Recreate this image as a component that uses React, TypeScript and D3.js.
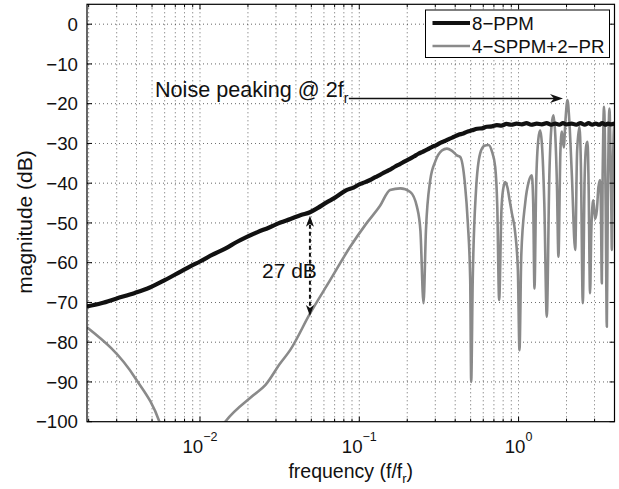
import React from 'react';
import * as d3 from 'd3';

const W = 619;
const H = 489;
const PL = 87;
const PR = 614.5;
const PT = 4.3;
const PB = 421.7;

const xDomain = [1 / 512, 4];
const yDomain = [-100, 5];
const yTicks = [0, -10, -20, -30, -40, -50, -60, -70, -80, -90, -100];
const xMajorTicks = [0.01, 0.1, 1];
const xTickExp = ['\u22122', '\u22121', '0'];
const seriesNames = ['8\u2212PPM', '4\u2212SPPM+2\u2212PR'];

const ppmFreq = [0.00195, 0.0024, 0.003, 0.0039, 0.0048, 0.006, 0.0075, 0.0088, 0.01, 0.012, 0.0145, 0.017, 0.0197, 0.023, 0.027, 0.032, 0.037, 0.043, 0.049, 0.055, 0.062, 0.07, 0.0836, 0.092, 0.1, 0.108, 0.117, 0.126, 0.135, 0.145, 0.156, 0.168, 0.18, 0.193, 0.207, 0.22, 0.235, 0.25, 0.268, 0.285, 0.305, 0.325, 0.345, 0.37, 0.395, 0.42, 0.45, 0.48, 0.51, 0.55, 0.59, 0.63, 0.68, 0.73, 0.78, 0.84, 0.9, 0.97, 1.05, 1.12, 1.2, 1.3, 1.4, 1.5, 1.6, 1.7, 1.8, 1.9, 2.0, 2.15, 2.3, 2.45, 2.6, 2.75, 2.9, 3.05, 3.2, 3.35, 3.5, 3.65, 3.8, 4.0];
const ppmMag = [-71.0, -70.2, -69.0, -67.6, -66.3, -64.4, -62.3, -60.8, -59.7, -58.0, -56.4, -54.8, -53.5, -52.3, -51.2, -49.9, -49.0, -48.0, -47.3, -46.2, -44.9, -43.7, -41.7, -41.1, -40.3, -39.8, -39.2, -38.5, -37.9, -37.2, -36.6, -35.8, -35.2, -34.5, -33.9, -33.3, -32.6, -32.1, -31.5, -30.9, -30.4, -29.8, -29.4, -28.8, -28.3, -27.8, -27.5, -27.0, -26.7, -26.3, -26.2, -25.8, -25.7, -25.4, -25.5, -25.1, -25.3, -25.0, -25.2, -24.9, -25.3, -25.0, -25.2, -24.9, -25.3, -25.0, -25.3, -24.9, -25.2, -25.0, -25.3, -24.9, -25.3, -24.9, -25.3, -25.0, -25.3, -24.9, -25.3, -25.0, -25.2, -25.0];

const sppmFreq = [0.00196, 0.00392, 0.00562, 0.0068, 0.0095, 0.0144, 0.0217, 0.0257, 0.0319, 0.0368, 0.0492, 0.0656, 0.0877, 0.11, 0.135, 0.156, 0.181, 0.209, 0.23, 0.242, 0.253, 0.262, 0.279, 0.30, 0.33, 0.355, 0.38, 0.41, 0.43, 0.46, 0.48, 0.497, 0.504, 0.515, 0.54, 0.574, 0.61, 0.647, 0.68, 0.713, 0.735, 0.755, 0.78, 0.80, 0.824, 0.85, 0.88, 0.908, 0.953, 0.99, 1.013, 1.04, 1.1, 1.16, 1.21, 1.235, 1.258, 1.29, 1.33, 1.366, 1.40, 1.45, 1.503, 1.56, 1.61, 1.655, 1.70, 1.74, 1.779, 1.83, 1.87, 1.92, 1.97, 2.027, 2.08, 2.16, 2.266, 2.33, 2.41, 2.46, 2.53, 2.6, 2.66, 2.71, 2.75, 2.81, 2.86, 2.92, 2.95, 3.02, 3.10, 3.17, 3.25, 3.29, 3.33, 3.37, 3.41, 3.44, 3.48, 3.53, 3.58, 3.63, 3.68, 3.72, 3.76, 3.81, 3.85, 3.9, 3.95, 4.0];
const sppmMag = [-76.3, -89.0, -100.5, -112, -112, -100.0, -93.3, -90.8, -85.3, -82.0, -72.7, -64.4, -56.0, -50.3, -45.7, -41.7, -41.3, -42.2, -45.9, -52.0, -70.2, -52.0, -39.2, -34.5, -31.8, -31.3, -31.8, -33.0, -33.4, -40.0, -50.0, -64.4, -90.0, -65.0, -42.0, -32.5, -30.6, -30.4, -32.0, -35.9, -46.0, -69.4, -47.0, -41.5, -39.7, -41.0, -44.5, -47.6, -52.6, -62.0, -82.0, -58.0, -45.0, -39.5, -38.0, -45.0, -66.5, -40.0, -29.0, -26.7, -30.0, -45.0, -73.6, -38.0, -25.5, -22.9, -28.0, -40.0, -58.5, -32.0, -27.0, -31.0, -24.0, -19.1, -24.0, -38.0, -56.8, -32.0, -25.8, -35.0, -70.2, -38.0, -30.5, -29.6, -40.0, -67.7, -52.0, -45.0, -44.3, -49.0, -46.8, -41.0, -39.2, -47.0, -65.2, -38.0, -24.0, -20.8, -28.0, -50.0, -76.1, -45.0, -26.0, -21.2, -28.0, -42.0, -56.8, -38.0, -28.0, -25.0];

const FONT = 'Liberation Sans, Arial, Helvetica, sans-serif';

export default function App() {
  const x = d3.scaleLog().domain(xDomain).range([PL, PR]);
  const y = d3.scaleLinear().domain(yDomain).range([PB, PT]);

  const line = d3
    .line<[number, number]>()
    .x((d) => x(d[0]))
    .y((d) => y(d[1]))
    .curve(d3.curveMonotoneX);

  const ppm: [number, number][] = ppmFreq.map((f, i) => [f, ppmMag[i]]);
  const sppm: [number, number][] = sppmFreq.map((f, i) => [f, sppmMag[i]]);

  const minor: number[] = [];
  for (let e = -3; e <= 0; e++) {
    for (let m = 2; m <= 9; m++) {
      const v = m * Math.pow(10, e);
      if (v > xDomain[0] && v < xDomain[1]) minor.push(v);
    }
  }

  const dotted = { stroke: '#000', strokeWidth: 0.8, strokeDasharray: '1,3', opacity: 0.75 };

  const npY = -18.7;
  const npX0 = 0.086;
  const npX1 = 1.9;
  const dbX = 0.049;
  const dbTop = -48.2;
  const dbBot = -73.4;

  const ax1 = x(npX1);
  const ay = y(npY);
  const dx = x(dbX);
  const dyTop = y(dbTop);
  const dyBot = y(dbBot);

  const TF = 18.7;

  return (
    <svg width={W} height={H} style={{ position: 'absolute', left: 0, top: 0, background: '#fff' }} fontFamily={FONT}>
      <defs>
        <clipPath id="plotclip">
          <rect x={PL} y={PT} width={PR - PL} height={PB - PT} />
        </clipPath>
      </defs>
      <rect x={0} y={0} width={W} height={H} fill="#fff" />

      {[...xMajorTicks, ...minor].map((v, i) => (
        <line key={'gx' + i} x1={x(v)} x2={x(v)} y1={PT} y2={PB} {...dotted} />
      ))}
      {yTicks.slice(0, -1).map((v, i) => (
        <line key={'gy' + i} x1={PL} x2={PR} y1={y(v)} y2={y(v)} {...dotted} />
      ))}

      <g clipPath="url(#plotclip)">
        <path d={line(sppm) || ''} fill="none" stroke="#8a8a8a" strokeWidth={2.6} strokeLinejoin="round" />
        <path d={line(ppm) || ''} fill="none" stroke="#111" strokeWidth={4.2} strokeLinejoin="round" />
      </g>

      <rect x={PL} y={PT} width={PR - PL} height={PB - PT} fill="none" stroke="#000" strokeWidth={1.2} />

      {xMajorTicks.map((v, i) => (
        <g key={'xt' + i}>
          <line x1={x(v)} x2={x(v)} y1={PB} y2={PB - 5} stroke="#000" strokeWidth={1} />
          <line x1={x(v)} x2={x(v)} y1={PT} y2={PT + 5} stroke="#000" strokeWidth={1} />
        </g>
      ))}
      {minor.map((v, i) => (
        <g key={'xm' + i}>
          <line x1={x(v)} x2={x(v)} y1={PB} y2={PB - 3} stroke="#000" strokeWidth={1} />
          <line x1={x(v)} x2={x(v)} y1={PT} y2={PT + 3} stroke="#000" strokeWidth={1} />
        </g>
      ))}
      {yTicks.map((v, i) => (
        <g key={'yt' + i}>
          <line x1={PL} x2={PL + 5} y1={y(v)} y2={y(v)} stroke="#000" strokeWidth={1} />
          <line x1={PR} x2={PR - 5} y1={y(v)} y2={y(v)} stroke="#000" strokeWidth={1} />
        </g>
      ))}

      {yTicks.map((v, i) => (
        <text key={'yl' + i} x={78} y={y(v)} dy="0.36em" textAnchor="end" fontSize={TF} fill="#111">
          {v < 0 ? '\u2212' + Math.abs(v) : String(v)}
        </text>
      ))}
      {xMajorTicks.map((v, i) => (
        <text key={'xl' + i} x={x(v)} y={452.5} textAnchor="middle" fontSize={TF} fill="#111">
          <tspan>10</tspan>
          <tspan dy={-11.5} fontSize={12.5}>{xTickExp[i]}</tspan>
        </text>
      ))}

      <text x={(PL + PR) / 2} y={478} textAnchor="middle" fontSize={19.5} fill="#111">
        frequency (f/f<tspan dy={5} fontSize={13}>r</tspan>
        <tspan dy={-5}>)</tspan>
      </text>
      <text transform={`translate(32, 222) rotate(-90)`} textAnchor="middle" fontSize={21} fill="#111">
        magnitude (dB)
      </text>

      <text x={155} y={97} fontSize={21.6} fill="#111">
        Noise peaking @ 2f<tspan dy={6} fontSize={14}>r</tspan>
      </text>
      <line x1={x(npX0)} x2={ax1 - 8} y1={ay} y2={ay} stroke="#111" strokeWidth={1.6} />
      <path d={`M${ax1},${ay} L${ax1 - 13},${ay - 4.5} L${ax1 - 9},${ay} L${ax1 - 13},${ay + 4.5} Z`} fill="#111" />

      <line x1={dx} x2={dx} y1={dyTop + 9} y2={dyBot - 9} stroke="#111" strokeWidth={2} strokeDasharray="4,3" />
      <path d={`M${dx},${dyTop} L${dx - 4},${dyTop + 11} L${dx},${dyTop + 8} L${dx + 4},${dyTop + 11} Z`} fill="#111" />
      <path d={`M${dx},${dyBot} L${dx - 4},${dyBot - 11} L${dx},${dyBot - 8} L${dx + 4},${dyBot - 11} Z`} fill="#111" />
      <text x={262} y={278} fontSize={21} fill="#111">27 dB</text>

      <g>
        <rect x={425.5} y={10} width={184} height={47.5} fill="#fff" stroke="#000" strokeWidth={1} />
        <line x1={432.5} x2={470} y1={23} y2={23} stroke="#111" strokeWidth={4} />
        <text x={472} y={23} dy="0.36em" fontSize={TF} fill="#111">{seriesNames[0]}</text>
        <line x1={432.5} x2={470} y1={46} y2={46} stroke="#8a8a8a" strokeWidth={2.6} />
        <text x={472} y={46} dy="0.36em" fontSize={TF} fill="#111">{seriesNames[1]}</text>
      </g>
    </svg>
  );
}
